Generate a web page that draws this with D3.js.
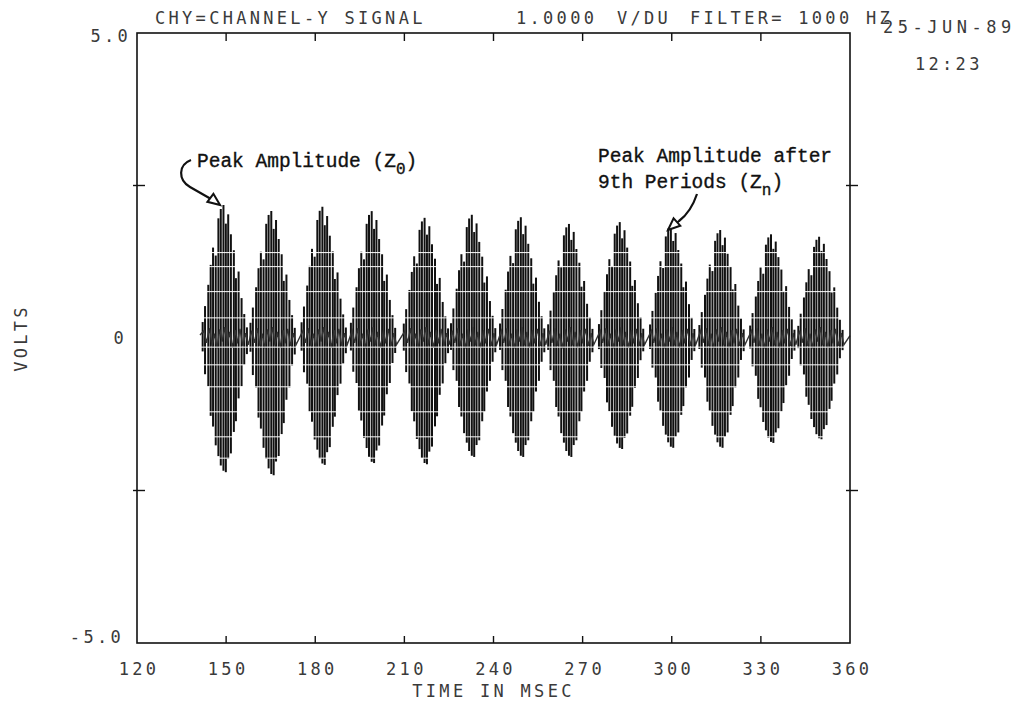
<!DOCTYPE html>
<html>
<head>
<meta charset="utf-8">
<script src="https://cdn.jsdelivr.net/npm/d3@7"></script>
<style>
  body { margin: 0; background: #fff; }
  svg { display: block; }
  .plot-text {
    font-family: "DejaVu Sans Mono", monospace;
    font-size: 17px;
    fill: #3a3a3a;
    letter-spacing: 3.3px;
  }
  .note {
    font-family: "Liberation Mono", "Courier New", monospace;
    font-size: 19.5px;
    fill: #111;
    stroke: #111;
    stroke-width: 0.35;
  }
</style>
</head>
<body>
<div id="chart"></div>
<script>
// axis ticks and labels
const xTicks = [120, 150, 180, 210, 240, 270, 300, 330, 360];
const xTickLabels = ["120", "150", "180", "210", "240", "270", "300", "330", "360"];
const yTicks = [-2.5, 2.5];
const yLabelValues = [5, 0, -5];
const yLabelText = ["5.0", "0", "-5.0"];

// one burst per beat period: centre time (ms) and envelope peaks (V)
const burstTime = [149.7, 165.8, 183.0, 199.6, 217.4, 233.3, 249.8, 266.0, 283.1, 300.3, 316.9, 334.0, 350.2];
const peakPos = [2.18, 2.08, 2.15, 2.08, 1.97, 2.02, 1.98, 1.87, 1.90, 1.85, 1.77, 1.70, 1.66];
const peakNeg = [-2.20, -2.25, -2.08, -2.05, -2.07, -1.95, -1.95, -1.95, -1.82, -1.80, -1.80, -1.72, -1.66];

// sampled strokes inside a burst (offset from centre in ms, relative heights)
const strokeOffset = [-7.6, -6.8, -5.7, -4.9, -4.1, -3.2, -2.3, -1.5, -0.6, 0.2, 1.0, 1.9, 2.9, 3.6, 4.5, 5.5, 6.4, 7.3];
const upShape = [0.12, 0.24, 0.40, 0.55, 0.68, 0.62, 0.90, 0.97, 1.00, 0.86, 0.93, 0.78, 0.66, 0.45, 0.50, 0.30, 0.18, 0.08];
const downShape = [0.10, 0.27, 0.36, 0.58, 0.66, 0.80, 0.88, 0.95, 0.99, 1.00, 0.90, 0.86, 0.70, 0.62, 0.45, 0.36, 0.20, 0.12];

// small ripple around zero between samples (V)
const bandVals = [0.12, -0.08, 0.16, -0.13, 0.07, -0.17, 0.14, -0.06, 0.18, -0.12, 0.10, -0.16, 0.13, -0.09, 0.15, -0.13, 0.08, -0.11];

const width = 1020;
const height = 707;
const margin = { top: 33, right: 170, bottom: 64, left: 137 };

const svg = d3
  .select("#chart")
  .append("svg")
  .attr("width", width)
  .attr("height", height);

const x = d3
  .scaleLinear()
  .domain([120, 360])
  .range([margin.left, width - margin.right]);

const y = d3
  .scaleLinear()
  .domain([-5, 5])
  .range([height - margin.bottom, margin.top]);

// signal strokes
const strokes = [];
burstTime.forEach((t, b) => {
  strokeOffset.forEach((o, k) => {
    strokes.push({ t: t + o, hi: peakPos[b] * upShape[k], lo: peakNeg[b] * downShape[k] });
  });
});

svg
  .append("g")
  .selectAll("line")
  .data(strokes)
  .enter()
  .append("line")
  .attr("x1", (d) => x(d.t))
  .attr("x2", (d) => x(d.t))
  .attr("y1", (d) => y(d.hi))
  .attr("y2", (d) => y(d.lo))
  .attr("stroke", "#111")
  .attr("stroke-width", 2);

// ripple band along zero
const band = [];
burstTime.forEach((t) => {
  strokeOffset.forEach((o, k) => band.push([t + o + 0.45, bandVals[k]]));
});
band.unshift([141.2, 0.05]);
band.push([360, 0.04]);

svg
  .append("path")
  .datum(band)
  .attr("fill", "none")
  .attr("stroke", "#333")
  .attr("stroke-width", 1.4)
  .attr("d", d3.line().x((d) => x(d[0])).y((d) => y(d[1])));

// white scan-line gaps of the plotter copy
const scanGaps = [1.40, 1.17, 0.76, 0.33, -0.15, -0.44, -0.80, -1.21, -1.62, -1.97];
svg
  .append("g")
  .selectAll("line")
  .data(scanGaps)
  .enter()
  .append("line")
  .attr("x1", x(141))
  .attr("x2", x(359.5))
  .attr("y1", (d) => y(d))
  .attr("y2", (d) => y(d))
  .attr("stroke", "#fff")
  .attr("stroke-width", 1);

// frame
svg
  .append("rect")
  .attr("x", x(120))
  .attr("y", y(5))
  .attr("width", x(360) - x(120))
  .attr("height", y(-5) - y(5))
  .attr("fill", "none")
  .attr("stroke", "#111")
  .attr("stroke-width", 1.6);

// ticks on the frame
const inner = xTicks.slice(1, -1);
svg
  .append("g")
  .selectAll("line")
  .data(inner)
  .enter()
  .append("line")
  .attr("x1", (d) => x(d))
  .attr("x2", (d) => x(d))
  .attr("y1", y(5))
  .attr("y2", y(5) + 8)
  .attr("stroke", "#111")
  .attr("stroke-width", 1.4);

svg
  .append("g")
  .selectAll("line")
  .data(inner)
  .enter()
  .append("line")
  .attr("x1", (d) => x(d))
  .attr("x2", (d) => x(d))
  .attr("y1", y(-5))
  .attr("y2", y(-5) - 7)
  .attr("stroke", "#111")
  .attr("stroke-width", 1.4);

[x(120), x(360)].forEach((xe) => {
  svg
    .append("g")
    .selectAll("line")
    .data(yTicks)
    .enter()
    .append("line")
    .attr("x1", xe - 4)
    .attr("x2", xe + 8)
    .attr("y1", (d) => y(d))
    .attr("y2", (d) => y(d))
    .attr("stroke", "#111")
    .attr("stroke-width", 1.4);
});

// tick labels
svg
  .append("g")
  .selectAll("text")
  .data(xTicks)
  .enter()
  .append("text")
  .attr("class", "plot-text")
  .attr("x", (d) => x(d) + 2)
  .attr("y", 675)
  .attr("text-anchor", "middle")
  .text((d, i) => xTickLabels[i]);

svg
  .append("g")
  .selectAll("text")
  .data(yLabelValues)
  .enter()
  .append("text")
  .attr("class", "plot-text")
  .attr("x", (d) => (d === 5 ? 131 : d === 0 ? 127 : 124))
  .attr("y", (d) => y(d) + (d > 0 ? 9 : d === 0 ? 6 : 0))
  .attr("text-anchor", "end")
  .text((d, i) => yLabelText[i]);

// axis titles
svg
  .append("text")
  .attr("class", "plot-text")
  .attr("x", (x(120) + x(360)) / 2)
  .attr("y", 697)
  .attr("text-anchor", "middle")
  .text("TIME IN MSEC");

svg
  .append("text")
  .attr("class", "plot-text")
  .attr("transform", `translate(27, ${y(0)}) rotate(-90)`)
  .attr("text-anchor", "middle")
  .text("VOLTS");

// header line
svg.append("text").attr("class", "plot-text").attr("x", 155).attr("y", 24).text("CHY=CHANNEL-Y SIGNAL");
svg.append("text").attr("class", "plot-text").attr("x", 516).attr("y", 24).text("1.0000");
svg.append("text").attr("class", "plot-text").attr("x", 617).attr("y", 24).text("V/DU");
svg.append("text").attr("class", "plot-text").attr("x", 690).attr("y", 24).text("FILTER= 1000 HZ");
svg.append("text").attr("class", "plot-text").attr("x", 883).attr("y", 33).style("letter-spacing", "4.5px").text("25-JUN-89");
svg.append("text").attr("class", "plot-text").attr("x", 915).attr("y", 70).text("12:23");

// hand annotations
const n1 = svg.append("text").attr("class", "note").attr("x", 197).attr("y", 167);
n1.append("tspan").text("Peak Amplitude (Z");
n1.append("tspan").attr("font-size", 16).attr("dy", 7).text("0");
n1.append("tspan").attr("dy", -7).text(")");

svg.append("text").attr("class", "note").attr("x", 598).attr("y", 162).text("Peak Amplitude after");
const n2 = svg.append("text").attr("class", "note").attr("x", 598).attr("y", 188);
n2.append("tspan").text("9th Periods (Z");
n2.append("tspan").attr("font-size", 16).attr("dy", 7).text("n");
n2.append("tspan").attr("dy", -7).text(")");

function arrow(d, tip, base) {
  svg
    .append("path")
    .attr("d", d)
    .attr("fill", "none")
    .attr("stroke", "#111")
    .attr("stroke-width", 2.2);
  const ang = Math.atan2(tip[1] - base[1], tip[0] - base[0]);
  const L = 12, W = 5;
  const bx = tip[0] - L * Math.cos(ang), by = tip[1] - L * Math.sin(ang);
  const pts = [
    tip,
    [bx - W * Math.sin(ang), by + W * Math.cos(ang)],
    [bx + W * Math.sin(ang), by - W * Math.cos(ang)],
  ];
  svg
    .append("polygon")
    .attr("points", pts.map((p) => p.join(",")).join(" "))
    .attr("fill", "#fff")
    .attr("stroke", "#111")
    .attr("stroke-width", 2);
}

arrow("M191,160 C178,165 178,180 190,187 L211,199", [220, 205], [208, 196]);
arrow("M697,194 Q691,212 679,221 L674,225", [668, 230], [678, 221]);
</script>
</body>
</html>
